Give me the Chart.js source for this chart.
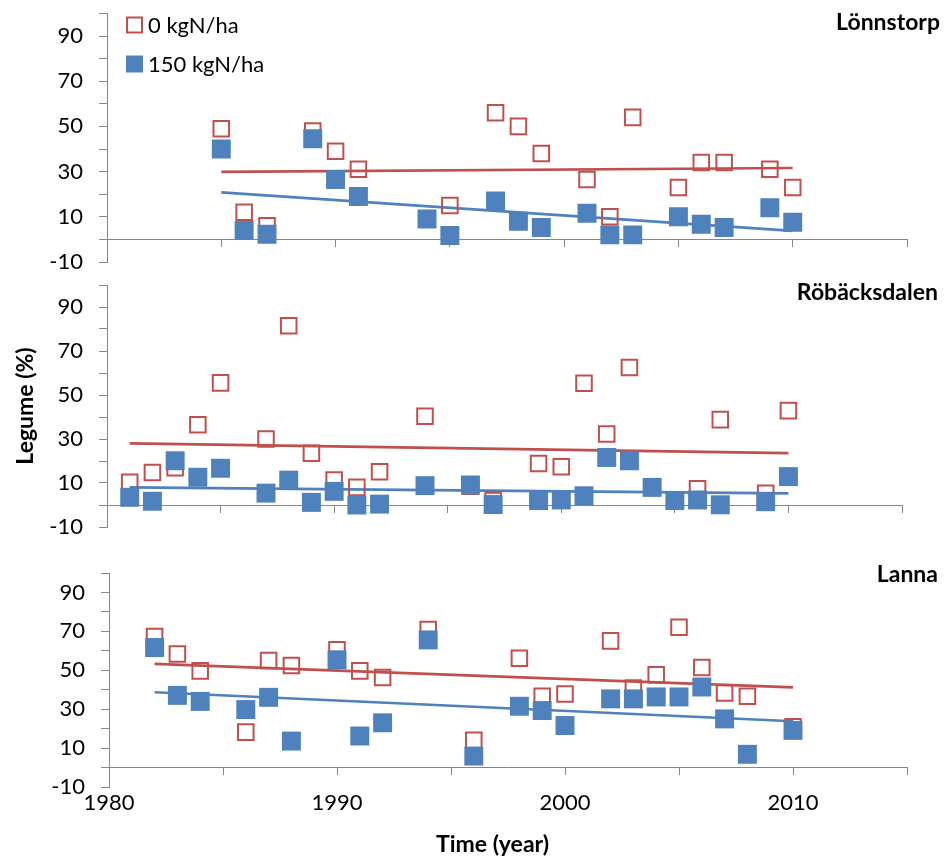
<!DOCTYPE html>
<html>
<head>
<meta charset="utf-8">
<title>Legume share</title>
<script src="https://cdn.jsdelivr.net/npm/chart.js@4.4.1/dist/chart.umd.min.js"></script>
<style>
  html, body { margin: 0; padding: 0; background: #fff; }
  #wrap { position: relative; width: 948px; height: 862px; overflow: hidden; }
  #wrap canvas { position: absolute; left: 0; }
</style>
</head>
<body>
<div id="wrap">
  <canvas id="lonnstorp" width="948" height="290" style="top:0px"></canvas>
  <canvas id="robacksdalen" width="948" height="290" style="top:270px"></canvas>
  <canvas id="lanna" width="948" height="322" style="top:540px"></canvas>
</div>
<script>
// Lönnstorp
const lonnYears0 = [1985, 1986, 1987, 1989, 1990, 1991, 1995, 1997, 1998, 1999, 2001, 2002, 2003, 2005, 2006, 2007, 2009, 2010];
const lonnN0 = [49, 12, 6, 48, 39, 31, 15, 56, 50, 38, 26.5, 10, 54, 23, 34, 34, 31, 23];
const lonnYears150 = [1985, 1986, 1987, 1989, 1990, 1991, 1994, 1995, 1997, 1998, 1999, 2001, 2002, 2003, 2005, 2006, 2007, 2009, 2010];
const lonnN150 = [40, 4, 2.3, 44.5, 26.5, 19, 9, 1.7, 17, 8, 5.3, 11.6, 2, 2, 10, 6.7, 5.3, 14, 7.6];
const lonnTrendYears = [1985, 2010];
const lonnTrend0 = [29.9, 31.6];
const lonnTrend150 = [20.8, 3.8];

// Röbäcksdalen
const robYears0 = [1981, 1982, 1983, 1984, 1985, 1987, 1988, 1989, 1990, 1991, 1992, 1994, 1996, 1997, 1999, 2000, 2001, 2002, 2003, 2006, 2007, 2009, 2010];
const robN0 = [10.3, 14.8, 17, 36.5, 55.5, 30, 81.5, 23.5, 11.4, 8, 15.1, 40.3, 8.5, 2, 18.9, 17.4, 55.3, 32.3, 62.5, 7.4, 38.8, 5.3, 42.9];
const robYears150 = [1981, 1982, 1983, 1984, 1985, 1987, 1988, 1989, 1990, 1991, 1992, 1994, 1996, 1997, 1999, 2000, 2001, 2002, 2003, 2004, 2005, 2006, 2007, 2009, 2010];
const robN150 = [3.5, 1.7, 20.1, 12.6, 16.7, 5.4, 11.3, 1.2, 6.2, 0, 0.4, 8.8, 9.1, 0.2, 2, 2.3, 4.2, 21.6, 20.1, 8, 2, 2.3, 0.1, 1.5, 12.9];
const robTrendYears = [1981, 2010];
const robTrend0 = [28, 23.6];
const robTrend150 = [8, 5.3];

// Lanna
const lanYears0 = [1982, 1983, 1984, 1986, 1987, 1988, 1990, 1991, 1992, 1994, 1996, 1998, 1999, 2000, 2002, 2003, 2004, 2005, 2006, 2007, 2008, 2010];
const lanN0 = [67.3, 58.4, 49.7, 18.2, 55, 52.5, 60.5, 49.7, 46.3, 71, 14, 56.2, 36.6, 37.8, 65.1, 40.9, 47.7, 72.1, 51.4, 38.3, 36.6, 21];
const lanYears150 = [1982, 1983, 1984, 1986, 1987, 1988, 1990, 1991, 1992, 1994, 1996, 1998, 1999, 2000, 2002, 2003, 2004, 2005, 2006, 2007, 2008, 2010];
const lanN150 = [61.7, 37.1, 34, 29.8, 36.1, 13.6, 55.4, 16.2, 23, 65.6, 5.9, 31.5, 29.3, 21.6, 35.3, 35.3, 36.3, 36.3, 41.4, 25, 6.8, 19.1];
const lanTrendYears = [1982, 2010];
const lanTrend0 = [53.3, 41.2];
const lanTrend150 = [38.7, 23.8];

const yTicks = [-10, 10, 30, 50, 70, 90];
const xTicks = [1980, 1990, 2000, 2010];
const seriesLabels = ['0 kgN/ha', '150 kgN/ha'];

const RED = '#C0504D';
const BLUE = '#4F81BD';
const AXIS = '#868686';
const FONT = 'Lato, "Open Sans", sans-serif';
const TICK_SIZE = 22;

const pts = (xs, ys) => xs.map((x, i) => ({ x: x, y: ys[i] }));

// panel heading + free text drawn straight on the canvas
const panelText = {
    id: 'panelText',
    afterDraw(chart, args, opts) {
        const ctx = chart.ctx;
        (opts.items || []).forEach(item => {
            ctx.save();
            ctx.font = item.font;
            ctx.fillStyle = '#000';
            ctx.textAlign = item.align || 'left';
            ctx.textBaseline = 'alphabetic';
            ctx.fillText(item.text, item.x, item.y);
            ctx.restore();
        });
    }
};

// small legend sitting inside the plot, top left
const cornerLegend = {
    id: 'cornerLegend',
    afterDraw(chart, args, opts) {
        if (!opts.show) return;
        const ctx = chart.ctx;
        const sets = chart.data.datasets.filter(d => d.inLegend);
        sets.sort((a, b) => a.legendRank - b.legendRank);
        sets.forEach((ds, i) => {
            const cy = opts.y + i * opts.rowGap;
            const s = opts.box;
            ctx.save();
            if (ds.backgroundColor === 'transparent') {
                ctx.strokeStyle = ds.borderColor;
                ctx.lineWidth = ds.borderWidth;
                ctx.strokeRect(opts.x - s / 2 + 1, cy - s / 2 + 1, s - 2, s - 2);
            } else {
                ctx.fillStyle = ds.backgroundColor;
                ctx.fillRect(opts.x - s / 2, cy - s / 2, s, s);
            }
            ctx.font = TICK_SIZE + 'px ' + FONT;
            ctx.fillStyle = '#000';
            ctx.textAlign = 'left';
            ctx.textBaseline = 'middle';
            ctx.fillText(ds.label, opts.x + s / 2 + 5, cy + 1);
            ctx.restore();
        });
    }
};

function makeDatasets(years0, n0, years150, n150, trendYears, trend0, trend150) {
    return [
        {
            label: seriesLabels[1], inLegend: true, legendRank: 1,
            data: pts(years150, n150),
            pointStyle: 'rect', pointRadius: 13.4, pointHoverRadius: 13.4,
            backgroundColor: BLUE, borderColor: BLUE, borderWidth: 0,
            order: 1
        },
        {
            label: seriesLabels[0], inLegend: true, legendRank: 0,
            data: pts(years0, n0),
            pointStyle: 'rect', pointRadius: 11, pointHoverRadius: 11,
            backgroundColor: 'transparent', borderColor: RED, borderWidth: 2,
            order: 2
        },
        {
            label: 'trend 150', data: pts(trendYears, trend150),
            showLine: true, pointRadius: 0, borderColor: BLUE, borderWidth: 2.7,
            order: 3
        },
        {
            label: 'trend 0', data: pts(trendYears, trend0),
            showLine: true, pointRadius: 0, borderColor: RED, borderWidth: 2.7,
            order: 4
        }
    ];
}

function yScale(axisWidth, title) {
    return {
        type: 'linear', position: 'left', min: -10, max: 100,
        afterFit: s => {
            s.width = axisWidth;
            // labels may hang over the plot edges, keep the plot where padding puts it
            s.paddingTop = 0;
            s.paddingBottom = 0;
        },
        ticks: {
            stepSize: 10, autoSkip: false, padding: 16, color: '#000',
            font: { family: FONT, size: TICK_SIZE },
            callback: v => (yTicks.includes(v) ? v : '')
        },
        grid: { drawOnChartArea: false, tickLength: 8, color: AXIS },
        border: { color: AXIS, width: 1 },
        title: title || { display: false }
    };
}

function xZeroScale() {
    return {
        type: 'linear', position: { y: 0 }, min: 1980, max: 2015,
        ticks: { display: false, stepSize: 5 },
        grid: { drawOnChartArea: false, tickLength: 7, color: AXIS },
        border: { color: AXIS, width: 1 }
    };
}

function makeChart(id, datasets, scales, padding, plugins) {
    return new Chart(document.getElementById(id), {
        type: 'scatter',
        data: { datasets: datasets },
        options: {
            responsive: false,
            animation: false,
            events: [],
            layout: { padding: padding },
            scales: scales,
            plugins: Object.assign({
                legend: { display: false },
                tooltip: { enabled: false }
            }, plugins)
        },
        plugins: [panelText, cornerLegend]
    });
}

const headFont = 'bold 23px ' + FONT;

makeChart('lonnstorp',
    makeDatasets(lonnYears0, lonnN0, lonnYears150, lonnN150, lonnTrendYears, lonnTrend0, lonnTrend150),
    { x: xZeroScale(), y: yScale(107) },
    { top: 13, bottom: 28, left: 0, right: 41 },
    {
        panelText: { items: [{ text: 'Lönnstorp', x: 940, y: 30, align: 'right', font: headFont }] },
        cornerLegend: { show: true, x: 134.5, y: 25, rowGap: 39, box: 17 }
    });

makeChart('robacksdalen',
    makeDatasets(robYears0, robN0, robYears150, robN150, robTrendYears, robTrend0, robTrend150),
    {
        x: xZeroScale(),
        y: yScale(107, {
            display: true, text: 'Legume (%)', color: '#000',
            font: { family: FONT, size: 23, weight: 'bold' },
            padding: { top: 12, bottom: 0 }
        })
    },
    { top: 15, bottom: 33, left: 0, right: 46 },
    {
        panelText: { items: [{ text: 'Röbäcksdalen', x: 938, y: 30, align: 'right', font: headFont }] },
        cornerLegend: { show: false }
    });

makeChart('lanna',
    makeDatasets(lanYears0, lanN0, lanYears150, lanN150, lanTrendYears, lanTrend0, lanTrend150),
    {
        x: xZeroScale(),
        xLabels: {
            type: 'linear', axis: 'x', position: 'bottom', min: 1980, max: 2015,
            afterFit: s => { s.height = 75; },
            ticks: {
                stepSize: 10, autoSkip: false, padding: 3, color: '#000', maxRotation: 0,
                font: { family: FONT, size: TICK_SIZE },
                callback: v => (xTicks.includes(v) ? v : '')
            },
            grid: { display: false, drawTicks: false },
            border: { display: false }
        },
        y: yScale(109)
    },
    { top: 33, bottom: 0, left: 0, right: 41 },
    {
        panelText: { items: [
            { text: 'Lanna', x: 938, y: 41.7, align: 'right', font: headFont },
            { text: 'Time (year)', x: 492.5, y: 311.7, align: 'center', font: headFont }
        ] },
        cornerLegend: { show: false }
    });
</script>
</body>
</html>
